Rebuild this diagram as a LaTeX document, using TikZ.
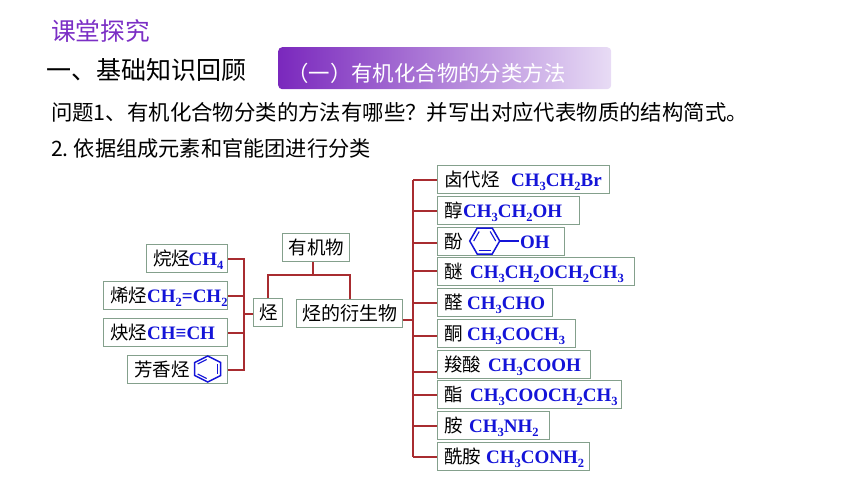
\documentclass[tikz,border=0pt]{standalone}
\usepackage{fontspec}
\setmainfont{Noto Sans CJK SC}
\newfontfamily\chemfont{Liberation Serif}
\definecolor{linkred}{HTML}{A82C30}
\definecolor{boxline}{HTML}{84A08C}
\definecolor{chemblue}{HTML}{1414D8}
\definecolor{titlepurple}{HTML}{7B2FC5}
\definecolor{pillleft}{HTML}{7A28BD}
\definecolor{pillright}{HTML}{E8DCF5}
\newcommand\fs[1]{\fontsize{#1}{#1}\selectfont}
\newcommand\cm[1]{{\chemfont\bfseries\fs{19}\color{chemblue}#1}}
\newcommand\su[1]{\raisebox{-0.22em}{\fs{12.5}#1}}
\newcommand\zh[2]{\makebox[#1pt][l]{#2}}
\tikzset{
  x=1pt,y=-1pt,
  chembox/.style={draw=boxline,line width=1.4pt,fill=white,anchor=north west,inner xsep=6.5pt,inner ysep=0pt,
    minimum height=28pt,text width=#1pt-13pt,align=left,text height=20.5pt,text depth=7.5pt,font=\fs{18.5}},
  link/.style={draw=linkred,line width=2pt},
  ring/.style={draw=chemblue,line width=1.5pt},
  ringin/.style={draw=chemblue,line width=1.1pt},
  heading/.style={anchor=base west,inner sep=0pt},
}
\begin{document}
\begin{tikzpicture}
\useasboundingbox (0,0) rectangle (860,484);
% headings
\node[heading,text=titlepurple,font=\fs{24.7}] (title) at (51,41) {课堂探究};
\node[heading,text=black,font=\fs{25}] (sect) at (46,80) {一、基础知识回顾};
\node[anchor=north west,minimum width=333pt,minimum height=42pt,inner sep=0pt,rounded corners=4pt,
  left color=pillleft,right color=pillright,text=white,font=\fs{21.4},text width=333pt,align=left,
  text height=34pt,text depth=8pt] (pill) at (278,47) {\hspace*{9pt}（一）有机化合物的分类方法};
\node[heading,font=\fs{21.4}] (q1) at (51,121) {问题1、有机化合物分类的方法有哪些？并写出对应代表物质的结构简式。};
\node[heading,font=\fs{21.2}] (q2) at (51,157) {2.\hspace{5pt}依据组成元素和官能团进行分类};
% left column
\node[chembox=81] (alkane) at (146,244) {\zh{35.5}{烷烃}\cm{CH\su{4}}};
\node[chembox=124] (alkene) at (103,281) {\zh{37}{烯烃}\cm{CH\su{2}=CH\su{2}}};
\node[chembox=124] (alkyne) at (103,318) {\zh{37}{炔烃}\cm{CH≡CH}};
\node[chembox=100] (arene) at (127,355) {芳香烃};
\node[chembox=30,inner xsep=6pt] (hc) at (253,298) {烃};
\node[chembox=68,inner xsep=6pt] (org) at (282,233) {有机物};
\node[chembox=107,inner xsep=6pt,font=\fs{19}] (deriv) at (296,299) {烃的衍生物};
% right column
\node[chembox=172] (r1) at (437,165) {\zh{67}{卤代烃}\cm{CH\su{3}CH\su{2}Br}};
\node[chembox=142] (r2) at (437,196) {\zh{19}{醇}\cm{CH\su{3}CH\su{2}OH}};
\node[chembox=127] (r3) at (437,227) {\zh{76}{酚}\cm{OH}};
\node[chembox=197] (r4) at (437,257) {\zh{26}{醚}\cm{CH\su{3}CH\su{2}OCH\su{2}CH\su{3}}};
\node[chembox=115] (r5) at (437,288) {\zh{23}{醛}\cm{CH\su{3}CHO}};
\node[chembox=138] (r6) at (437,319) {\zh{23}{酮}\cm{CH\su{3}COCH\su{3}}};
\node[chembox=153] (r7) at (437,350) {\zh{44}{羧酸}\cm{CH\su{3}COOH}};
\node[chembox=184] (r8) at (437,380) {\zh{26}{酯}\cm{CH\su{3}COOCH\su{2}CH\su{3}}};
\node[chembox=112] (r9) at (437,411) {\zh{25}{胺}\cm{CH\su{3}NH\su{2}}};
\node[chembox=152] (r10) at (437,442) {\zh{42}{酰胺}\cm{CH\su{3}CONH\su{2}}};
% left connectors
\coordinate (lbus) at (244,314);
\draw[link] (alkane.east) -- (lbus |- alkane.east) -- (lbus |- arene.east) -- (arene.east);
\draw[link] (alkene.east) -- (lbus |- alkene.east);
\draw[link] (alkyne.east) -- (lbus |- alkyne.east);
\draw[link] (lbus) -- (lbus -| hc.west);
% top connectors
\coordinate (tbar) at (313,275);
\draw[link] (org.south) ++(-3,0) coordinate (orgfoot) -- (orgfoot |- tbar);
\draw[link] (hc.north) ++(0,0) coordinate (hcfoot) -- (hcfoot |- tbar) -- (deriv.north |- tbar) -- (deriv.north);
% right connectors
\coordinate (rbus) at (412.7,320);
\draw[link] (rbus |- r1.west) -- (rbus |- r10.west);
\draw[link] (deriv.east |- rbus) -- (rbus);
\foreach \n/\d in {r1/0,r2/0,r3/1,r4/-1,r5/0,r6/2,r7/7,r8/0,r9/0,r10/0}{
  \draw[link] ([yshift=-\d pt]\n.west) coordinate (tip) -- (rbus |- tip);
}
% benzene in arene box
\coordinate (bz) at (207.7,369);
\draw[ring] (bz) ++(0,-13) -- ++(13,6.5) -- ++(0,13) -- ++(-13,6.5) -- ++(-13,-6.5) -- ++(0,-13) -- cycle;
\draw[ringin] (bz) ++(10,-5) -- ++(0,10);
\draw[ringin] (bz) ++(-10,5) -- ++(9,4.5);
\draw[ringin] (bz) ++(-10,-5) -- ++(9,-4.5);
% benzene in phenol box
\coordinate (ph) at (484.7,241);
\draw[ring] (ph) ++(-15,0) -- ++(7.5,-13) -- ++(15,0) -- ++(7.5,13) -- ++(-7.5,13) -- ++(-15,0) -- cycle;
\draw[ringin] (ph) ++(-11,0) -- ++(5.5,-9.5);
\draw[ringin] (ph) ++(11,0) -- ++(-5.5,-9.5);
\draw[ringin] (ph) ++(-6,9.5) -- ++(12,0);
\draw[ring] (ph) ++(15,0) -- ++(19,0);
\end{tikzpicture}
\end{document}
